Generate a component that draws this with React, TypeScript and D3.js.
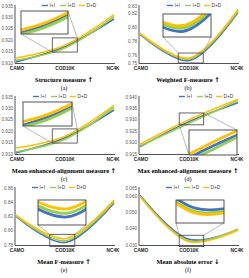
import React from "react";
import * as d3 from "d3";

// categories and series
const categories = ["CAMO", "COD10K", "NC4K"];
const seriesNames = ["I+I", "I+D", "D+D"];
const seriesColors = ["#4472C4", "#92D050", "#FFC000"];

// values per panel, one array per series: [I+I, I+D, D+D]
const structureMeasure = [
  [0.9105, 0.9172, 0.9293],
  [0.9112, 0.9166, 0.9303],
  [0.9122, 0.9178, 0.9312],
];
const weightedF = [
  [0.790, 0.7535, 0.821],
  [0.791, 0.7555, 0.823],
  [0.792, 0.757, 0.825],
];
const meanE = [
  [0.9105, 0.9171, 0.9293],
  [0.9110, 0.9165, 0.9305],
  [0.9126, 0.9178, 0.9313],
];
const maxE = [
  [0.9182, 0.9292, 0.9375],
  [0.9185, 0.9285, 0.9385],
  [0.9193, 0.9300, 0.9390],
];
const meanF = [
  [0.820, 0.7835, 0.839],
  [0.821, 0.7860, 0.841],
  [0.822, 0.7890, 0.843],
];
const mae = [
  [0.0605, 0.0335, 0.0393],
  [0.0600, 0.0325, 0.0398],
  [0.0600, 0.0320, 0.0390],
];

// tick values
const structureTicks = [0.91, 0.915, 0.92, 0.925, 0.93, 0.935];
const weightedTicks = [0.75, 0.76, 0.78, 0.8, 0.82, 0.83];
const meanETicks = [0.91, 0.915, 0.92, 0.925, 0.93, 0.935];
const maxETicks = [0.915, 0.92, 0.925, 0.93, 0.935, 0.94];
const meanFTicks = [0.78, 0.8, 0.82, 0.84, 0.86];
const maeTicks = [0.03, 0.04, 0.05, 0.06, 0.065];

const panels = [
  { data: structureMeasure, ticks: structureTicks, digits: 3, caption: "Structure measure", arrow: "\u2191", letter: "(a)",
    col: 0, row: 0, legendX: 42, src: [0.74, 1.25, 0.9148, 0.921], inset: [21, 11, 47, 23], links: [["bl", "bl"], ["tr", "tr"]] },
  { data: weightedF, ticks: weightedTicks, digits: 2, caption: "Weighted F-measure", arrow: "\u2191", letter: "(b)",
    col: 1, row: 0, legendX: 43, src: [0.78, 1.29, 0.75, 0.764], inset: [39, 14, 48, 23], links: [["bl", "tl"], ["br", "tr"]] },
  { data: meanE, ticks: meanETicks, digits: 3, caption: "Mean enhanced-alignment measure", arrow: "\u2191", letter: "(c)",
    col: 0, row: 1, legendX: 33, src: [0.74, 1.25, 0.9148, 0.921], inset: [23, 11, 49, 24], links: [["bl", "bl"], ["tr", "tr"]] },
  { data: maxE, ticks: maxETicks, digits: 3, caption: "Max enhanced-alignment measure", arrow: "\u2191", letter: "(d)",
    col: 1, row: 1, legendX: 55, src: [0.8, 1.3, 0.9278, 0.933], inset: [65, 39, 48, 25], links: [["bl", "bl"], ["tr", "tr"]] },
  { data: meanF, ticks: meanFTicks, digits: 2, caption: "Mean F-measure ", arrow: "\u2191", letter: "(e)",
    col: 0, row: 2, legendX: 32, src: [0.69, 1.2, 0.778, 0.795], inset: [38, 18, 48, 25], links: [["bl", "tl"], ["br", "tr"]] },
  { data: mae, ticks: maeTicks, digits: 3, caption: "Mean absolute error ", arrow: "\u2193", letter: "(f)",
    col: 1, row: 2, legendX: 42, src: [0.8, 1.3, 0.029, 0.036], inset: [52, 18, 48, 23], links: [["bl", "tl"], ["br", "tr"]] },
];

const x = d3.scaleLinear().domain([0, categories.length - 1]).range([16, 114]);

function corner(r: number[], c: string) {
  const [rx, ry, rw, rh] = r;
  return [c[1] === "l" ? rx : rx + rw, c[0] === "t" ? ry : ry + rh];
}

function Panel({ p, idx }: { p: any; idx: number }) {
  const y = d3.scaleLinear().domain([p.ticks[0], p.ticks[p.ticks.length - 1]]).range([63, 6]);
  const line = d3.line<number>().x((d, i) => x(i)).y((d) => y(d)).curve(d3.curveCatmullRom.alpha(0.5));

  const [i0, i1, v0, v1] = p.src;
  const srcRect = [x(i0), y(v1), x(i1) - x(i0), y(v0) - y(v1)];
  const [ix, iy, iw, ih] = p.inset;
  const sx = iw / srcRect[2];
  const sy = ih / srcRect[3];
  const clipId = `clip-${idx}`;

  return (
    <g transform={`translate(${p.col * 124},${p.row * 91})`}>
      <defs>
        <clipPath id={clipId}>
          <rect x={ix} y={iy} width={iw} height={ih} />
        </clipPath>
      </defs>
      {/* y tick labels */}
      {p.ticks.map((t: number) => (
        <text key={t} x={13} y={y(t) + 1.6} textAnchor="end" fontSize={4.6} fill="#595959"
          fontFamily="Liberation Sans, Arial, sans-serif">{t.toFixed(p.digits)}</text>
      ))}
      {/* axes */}
      <line x1={15} x2={15} y1={5} y2={63.5} stroke="#404040" strokeWidth={0.9} />
      <line x1={15} x2={115} y1={63.5} y2={63.5} stroke="#404040" strokeWidth={0.9} />
      {categories.map((c, i) => (
        <text key={c} x={x(i) + (i === 0 ? 1 : i === 2 ? -1 : 0)} y={69.5} textAnchor="middle" fontSize={4.8}
          fontWeight="bold" fill="#262626" fontFamily="Liberation Sans, Arial, sans-serif">{c}</text>
      ))}
      {/* series */}
      {p.data.map((s: number[], k: number) => (
        <path key={k} d={line(s) || ""} fill="none" stroke={seriesColors[k]} strokeWidth={1.6} />
      ))}
      {/* zoom box and connectors */}
      <rect x={srcRect[0]} y={srcRect[1]} width={srcRect[2]} height={srcRect[3]} fill="none" stroke="#404040" strokeWidth={0.8} />
      {p.links.map((l: string[], k: number) => {
        const a = corner(p.inset, l[0]);
        const b = corner(srcRect, l[1]);
        return <line key={k} x1={a[0]} y1={a[1]} x2={b[0]} y2={b[1]} stroke="#8c8c8c" strokeWidth={0.6} />;
      })}
      <rect x={ix} y={iy} width={iw} height={ih} fill="#fff" />
      <g clipPath={`url(#${clipId})`}>
        <g transform={`translate(${ix - sx * srcRect[0]},${iy - sy * srcRect[1]}) scale(${sx},${sy})`}>
          {p.data.map((s: number[], k: number) => (
            <path key={k} d={line(s) || ""} fill="none" stroke={seriesColors[k]} strokeWidth={2.8}
              vectorEffect="non-scaling-stroke" />
          ))}
        </g>
      </g>
      <rect x={ix} y={iy} width={iw} height={ih} fill="none" stroke="#404040" strokeWidth={0.9} />
      {/* legend */}
      {seriesNames.map((n, k) => {
        const lx = p.legendX + [0, 18, 37][k];
        return (
          <g key={n}>
            <line x1={lx} x2={lx + 6} y1={5.5} y2={5.5} stroke={seriesColors[k]} strokeWidth={1.4} />
            <text x={lx + 7.5} y={7.2} fontSize={4.8} fill="#404040" fontFamily="Liberation Sans, Arial, sans-serif">{n}</text>
          </g>
        );
      })}
      {/* caption */}
      <text x={64} y={82} textAnchor="middle" fontSize={6.4} fontWeight="bold" fill="#000"
        fontFamily="Liberation Serif, Times New Roman, serif">
        {p.caption} <tspan fontFamily="DejaVu Sans" fontSize={6.6}>{p.arrow}</tspan>
      </text>
      <text x={64} y={90} textAnchor="middle" fontSize={6} fill="#000"
        fontFamily="Liberation Serif, Times New Roman, serif">{p.letter}</text>
    </g>
  );
}

export default function App() {
  return (
    <svg width={249} height={278} style={{ position: "absolute", left: 0, top: 0, background: "#fff" }}>
      {panels.map((p, i) => (
        <Panel key={i} p={p} idx={i} />
      ))}
    </svg>
  );
}
